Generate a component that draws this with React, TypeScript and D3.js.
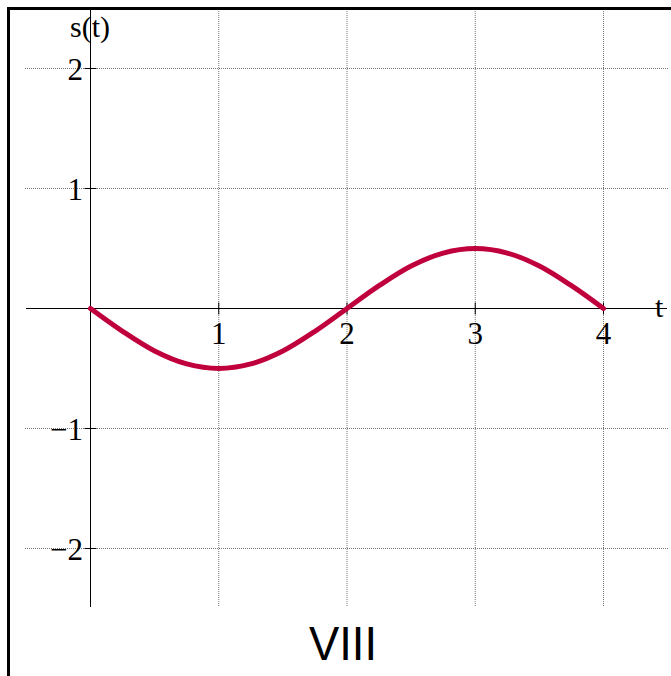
import React from "react";
import * as d3 from "d3";

const tValues = [0, 0.25, 0.5, 0.75, 1, 1.25, 1.5, 1.75, 2, 2.25, 2.5, 2.75, 3, 3.25, 3.5, 3.75, 4];
const sValues = [0, -0.19, -0.354, -0.462, -0.5, -0.462, -0.354, -0.19, 0, 0.19, 0.354, 0.462, 0.5, 0.462, 0.354, 0.19, 0];
const xTicks = [1, 2, 3, 4];
const yTicks = [2, 1, -1, -2];
const xTickLabels = ["1", "2", "3", "4"];
const yTickLabels = ["2", "1", "\u22121", "\u22122"];
const title = "VIII";

export default function App() {
  const W = 671, H = 676;
  const x = d3.scaleLinear().domain([0, 4]).range([90.5, 603.5]);
  const y = d3.scaleLinear().domain([2, -2]).range([68.5, 548.5]);
  const pts = tValues.map((t, i) => [x(t), y(sValues[i])] as [number, number]);
  const line = d3.line().curve(d3.curveCatmullRom.alpha(0.5))(pts) || "";
  const serif = "Liberation Serif, Times New Roman, serif";
  const gridStyle = { stroke: "#777", strokeWidth: 1, strokeDasharray: "1,1" };
  return (
    <div style={{ position: "absolute", left: 0, top: 0 }}>
      <svg width={W} height={H} style={{ display: "block" }}>
        <rect x={0} y={0} width={W} height={H} fill="#fff" />
        {/* grid */}
        {yTicks.map((v) => (
          <line key={"gy" + v} x1={25} x2={668} y1={y(v)} y2={y(v)} {...gridStyle} />
        ))}
        {xTicks.map((v) => (
          <line key={"gx" + v} x1={x(v)} x2={x(v)} y1={9} y2={607} {...gridStyle} />
        ))}
        {/* axes */}
        <line x1={26} x2={667} y1={y(0)} y2={y(0)} stroke="#000" strokeWidth={1} />
        <line x1={x(0)} x2={x(0)} y1={9} y2={607} stroke="#000" strokeWidth={1} />
        {yTicks.map((v) => (
          <line key={"ty" + v} x1={x(0) - 6} x2={x(0) + 6} y1={y(v)} y2={y(v)} stroke="#000" strokeWidth={1} />
        ))}
        {xTicks.map((v) => (
          <line key={"tx" + v} x1={x(v)} x2={x(v)} y1={y(0) - 6} y2={y(0) + 6} stroke="#000" strokeWidth={1} />
        ))}
        {/* tick labels */}
        {yTicks.map((v, i) => (
          <text key={"ly" + v} x={83} y={y(v) + 11} textAnchor="end" fontFamily={serif} fontSize={31} fill="#000">
            {yTickLabels[i]}
          </text>
        ))}
        {xTicks.map((v, i) => (
          <text key={"lx" + v} x={x(v)} y={y(0) + 35} textAnchor="middle" fontFamily={serif} fontSize={31} fill="#000">
            {xTickLabels[i]}
          </text>
        ))}
        <text x={90} y={37} textAnchor="middle" fontFamily={serif} fontSize={30} fill="#000">s(t)</text>
        <text x={655} y={317} textAnchor="start" fontFamily={serif} fontSize={30} fill="#000">t</text>
        {/* curve */}
        <path d={line} fill="none" stroke="#c0003c" strokeWidth={5} strokeLinecap="round" />
        {/* frame */}
        <line x1={8.5} x2={8.5} y1={7} y2={H} stroke="#000" strokeWidth={3} />
        <line x1={7} x2={W} y1={8.5} y2={8.5} stroke="#000" strokeWidth={3} />
        {/* title */}
        <text x={343} y={660} textAnchor="middle" fontFamily="Liberation Sans, Arial, sans-serif" fontSize={48}
          textLength={68} lengthAdjust="spacingAndGlyphs" fill="#000">{title}</text>
      </svg>
    </div>
  );
}
